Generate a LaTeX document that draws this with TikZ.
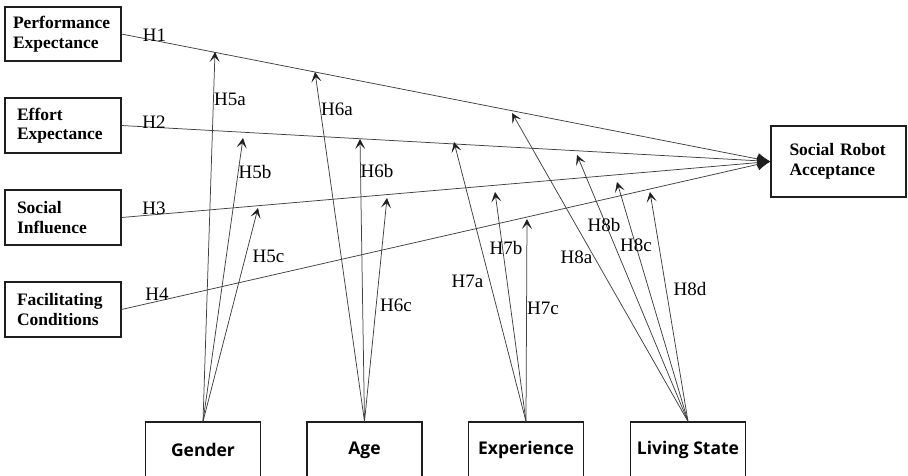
\documentclass[tikz,border=0pt]{standalone}
\usepackage{fontspec}
\setmainfont{Liberation Serif}
\newfontfamily\boxsans{Open Sans}
\usetikzlibrary{arrows.meta}
\definecolor{linec}{HTML}{404040}
\definecolor{boxc}{HTML}{1E1E1E}
\begin{document}
\begin{tikzpicture}[x=1pt,y=-1pt,
  lbox/.style={draw=boxc, line width=1.1pt, fill=white, minimum width=116pt, minimum height=55pt,
    text width=92pt, inner xsep=12pt, inner ysep=0pt, align=left,
    font=\fontsize{17.5}{19.5}\selectfont\bfseries},
  bbox/.style={draw=boxc, line width=1.1pt, fill=white, minimum width=115pt, minimum height=56pt,
    inner sep=0pt, font=\boxsans\fontsize{17.5}{20}\selectfont\bfseries},
  hline/.style={draw=linec, line width=0.75pt, -{Latex[length=13pt,width=12pt,color=boxc]}},
  mod/.style={draw=linec, line width=0.75pt, -{Stealth[length=10pt,width=10pt,inset=5pt,line width=0.5pt,color=boxc]}},
  hl/.style={inner sep=0pt, font=\fontsize{19}{22}\selectfont}]
\useasboundingbox (0,0) rectangle (908,475);
\clip (0,0) rectangle (908,475);

% construct boxes
\node[lbox, inner xsep=8pt, text width=100pt, minimum height=54pt] (pe) at (63,34) {Performance\\Expectance};
\node[lbox] (ee) at (63,125.5) {Effort\\Expectance};
\node[lbox] (si) at (63,217.5) {Social\\Influence};
\node[lbox] (fc) at (63,309.5) {Facilitating\\Conditions};
\node[lbox, minimum width=135pt, minimum height=71pt, text width=98pt, inner xsep=18.5pt] (sra) at (838.5,161.5) {Social Robot\\Acceptance};

% moderator boxes
\node[bbox] (gen) at (203,450) {Gender};
\node[bbox] (age) at (364.5,450) {Age};
\node[bbox] (exp) at (526,450) {Experience};
\node[bbox] (liv) at (688,450) {Living State};

% main paths
\draw[hline] (pe.east) -- (sra.west);
\draw[hline] (ee.east) -- (sra.west);
\draw[hline] (si.east) -- (sra.west);
\draw[hline] (fc.east) -- (sra.west);

% arrow tips of moderating paths
\coordinate (t5a) at (215,52);
\coordinate (t5b) at (243,138);
\coordinate (t5c) at (258,208);
\coordinate (t6a) at (315,72);
\coordinate (t6b) at (360,139);
\coordinate (t6c) at (387,198);
\coordinate (t7a) at (454,142);
\coordinate (t7b) at (495,192);
\coordinate (t7c) at (527,219);
\coordinate (t8a) at (512,113);
\coordinate (t8b) at (577,155);
\coordinate (t8c) at (617,182);
\coordinate (t8d) at (650,192);

\draw[mod] (gen.north) -- (t5a);
\draw[mod] (gen.north) -- (t5b);
\draw[mod] (gen.north) -- (t5c);
\draw[mod] (age.north) -- (t6a);
\draw[mod] (age.north) -- (t6b);
\draw[mod] (age.north) -- (t6c);
\draw[mod] (exp.north) -- (t7a);
\draw[mod] (exp.north) -- (t7b);
\draw[mod] (exp.north) -- (t7c);
\draw[mod] (liv.north) -- (t8a);
\draw[mod] (liv.north) -- (t8b);
\draw[mod] (liv.north) -- (t8c);
\draw[mod] (liv.north) -- (t8d);

% labels
\node[hl] (lh1) at (154.5,35) {H1};
\node[hl] (lh2) at (154,122) {H2};
\node[hl] (lh3) at (154,208) {H3};
\node[hl] (lh4) at (157,294) {H4};
\node[hl] (lh5a) at (230,99.5) {H5a};
\node[hl] (lh5b) at (255,171.5) {H5b};
\node[hl] (lh5c) at (268.5,256.5) {H5c};
\node[hl] (lh6a) at (337,109) {H6a};
\node[hl] (lh6b) at (377,171) {H6b};
\node[hl] (lh6c) at (396,305) {H6c};
\node[hl] (lh7a) at (467.5,281.5) {H7a};
\node[hl] (lh7b) at (506,248) {H7b};
\node[hl] (lh7c) at (543,308) {H7c};
\node[hl] (lh8a) at (576.5,257) {H8a};
\node[hl] (lh8b) at (604,225) {H8b};
\node[hl] (lh8c) at (636,245) {H8c};
\node[hl] (lh8d) at (690,288.5) {H8d};
\end{tikzpicture}
\end{document}
